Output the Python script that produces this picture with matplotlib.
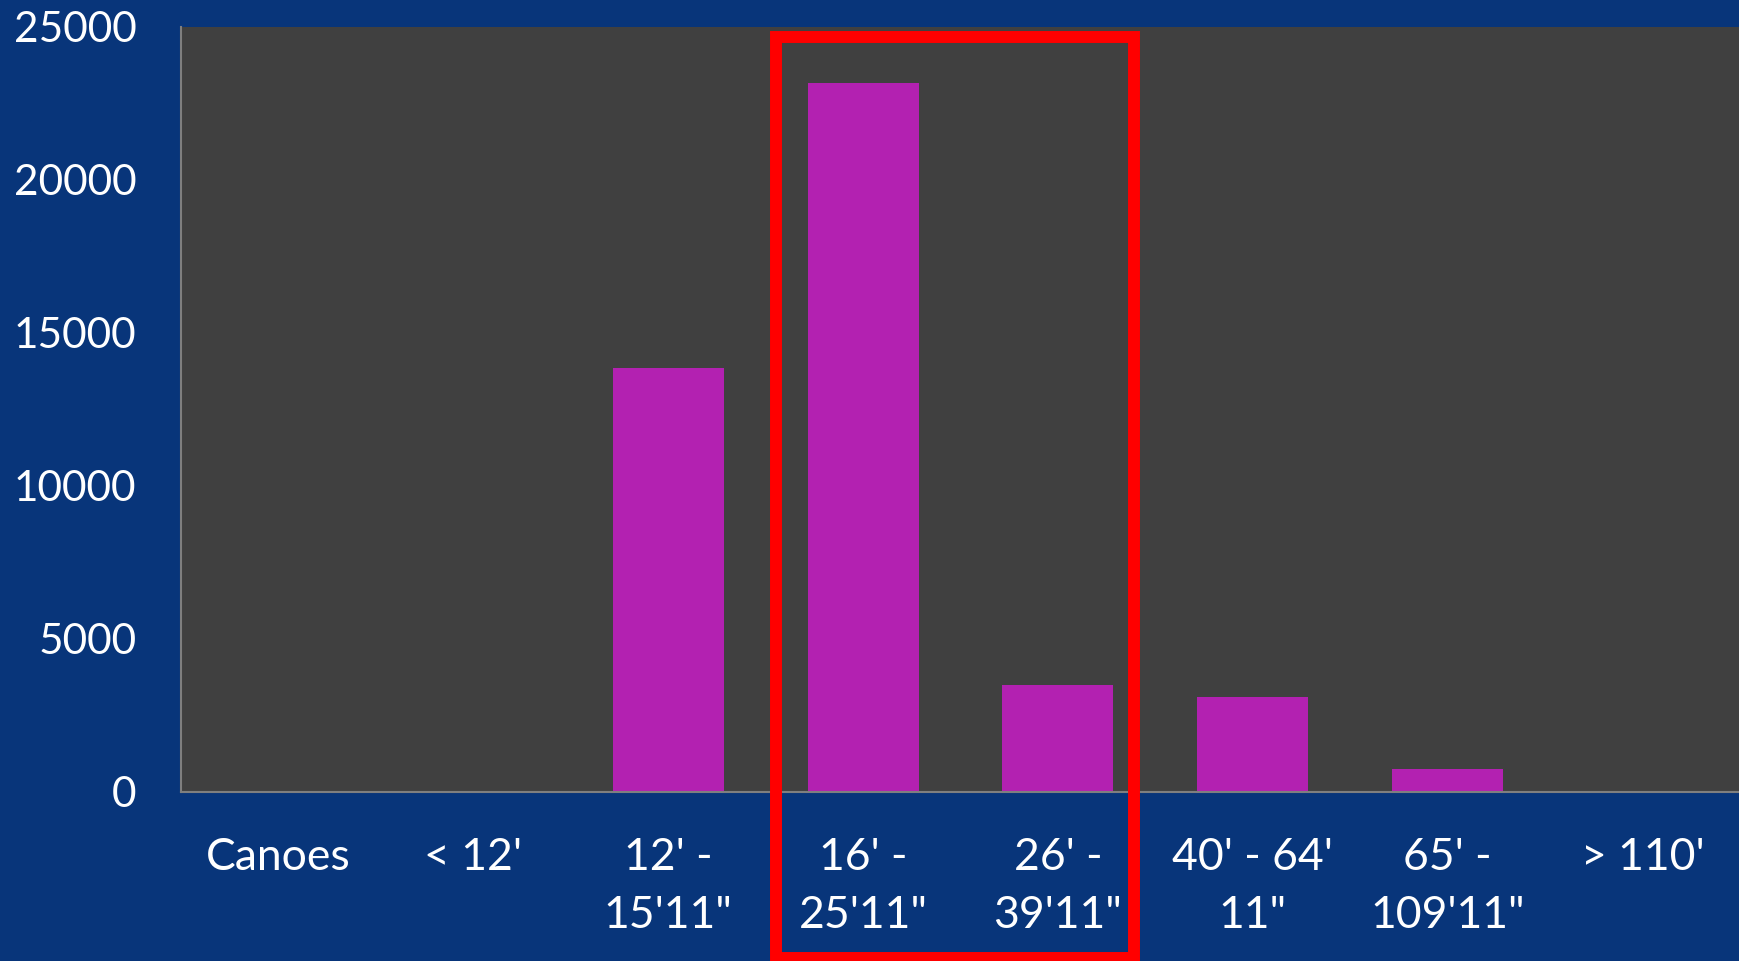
import matplotlib
matplotlib.use("Agg")
import matplotlib.pyplot as plt
from matplotlib.patches import Rectangle

categories = ["Canoes", "< 12'", "12' -\n15'11\"", "16' -\n25'11\"", "26' -\n39'11\"",
              "40' - 64'\n11\"", "65' -\n109'11\"", "> 110'"]
values = [0, 0, 13860, 23170, 3490, 3100, 750, 0]
yticks = [0, 5000, 10000, 15000, 20000, 25000]

plt.rcParams['font.family'] = ['Lato', 'DejaVu Sans']

W, H = 1740, 961
fig = plt.figure(figsize=(W / 100, H / 100), dpi=100)
fig.patch.set_facecolor('#08357A')
ax = fig.add_axes([181 / W, (H - 791.7) / H, (W - 181) / W, (791.7 - 27) / H])
ax.set_facecolor('#404040')

x = list(range(len(categories)))
ax.bar(x, values, width=0.57, color='#B321B1', zorder=2)
ax.set_xlim(-0.5, len(categories) - 0.5)
ax.set_ylim(0, 25000)
ax.set_yticks(yticks)
ax.set_yticklabels([str(v) for v in yticks])
ax.set_xticks(x)
ax.set_xticklabels(categories, linespacing=1.52)

ax.tick_params(axis='y', length=0, pad=32, labelsize=30.5, labelcolor='white')
ax.tick_params(axis='x', length=0, pad=32.5, labelsize=32, labelcolor='white')
for side in ['top', 'right']:
    ax.spines[side].set_visible(False)
for side in ['left', 'bottom']:
    ax.spines[side].set_color('#7F7F7F')
    ax.spines[side].set_linewidth(1.5)

# red highlight box (figure pixel coords)
x0, x1 = 776, 1134
y0, y1 = 958, 37
rect = Rectangle((x0 / W, (H - y0) / H), (x1 - x0) / W, (y0 - y1) / H,
                 transform=fig.transFigure, fill=False, edgecolor='#FF0000',
                 linewidth=8.6, zorder=10, clip_on=False)
fig.patches.append(rect)

fig.savefig('out.png', dpi=100, facecolor=fig.get_facecolor())
